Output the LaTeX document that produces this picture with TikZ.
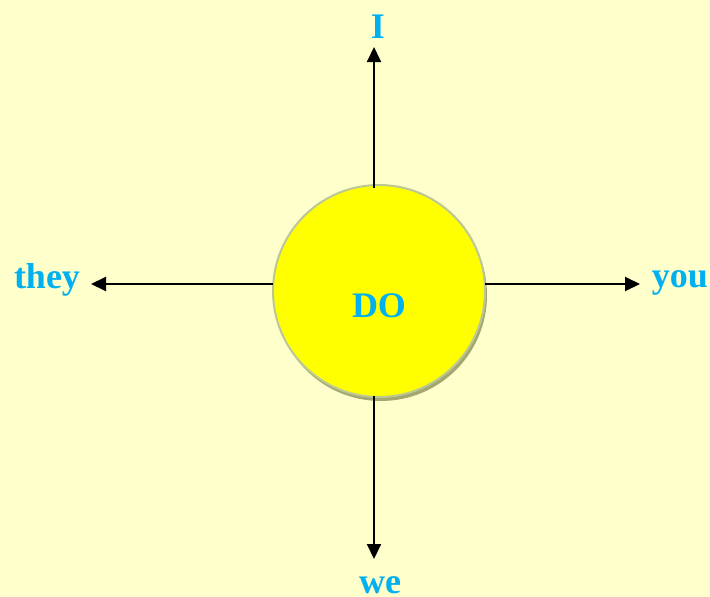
\documentclass[tikz,border=0pt]{standalone}
\usepackage{fontspec}
\setmainfont{Liberation Serif}
\usetikzlibrary{arrows.meta,shadows}
\definecolor{bg}{HTML}{FFFFCC}
\definecolor{txt}{HTML}{00B0F0}
\definecolor{ring}{HTML}{BCC894}
\definecolor{shad}{HTML}{A4A870}
\definecolor{ballfill}{HTML}{FFFF00}
\tikzset{
  lbl/.style={text=txt,font=\bfseries\fontsize{36}{40}\selectfont,inner sep=0pt,anchor=base},
  arr/.style={draw=black,line width=2pt,-{Triangle[length=15pt,width=14pt]}},
  ball/.style={circle,minimum size=212pt,inner sep=0pt,fill=ballfill,draw=ring,line width=2pt,
     drop shadow={shadow xshift=2pt,shadow yshift=-4pt,fill=shad,opacity=1}}
}
\begin{document}
\begin{tikzpicture}[x=1pt,y=-1pt]
\fill[bg] (0,0) rectangle (710,597);
\useasboundingbox (0,0) rectangle (710,597);
\node[ball] (do) at (379,291) {};
\node[lbl] (dotext) at (379,317) {DO};
\node[lbl] (I) at (378,38) {I};
\node[lbl] (they) at (47,288) {they};
\node[lbl] (you) at (680,287) {you};
\node[lbl] (we) at (380,593) {we};
\coordinate (sN) at (374,188);
\coordinate (tN) at (374,47);
\coordinate (sS) at (374,396);
\coordinate (tS) at (374,559);
\coordinate (sW) at (273,284);
\coordinate (tW) at (91,284);
\coordinate (sE) at (485,284);
\coordinate (tE) at (640,284);
\draw[arr] (sN) -- (tN);
\draw[arr] (sS) -- (tS);
\draw[arr] (sW) -- (tW);
\draw[arr] (sE) -- (tE);
\end{tikzpicture}
\end{document}
